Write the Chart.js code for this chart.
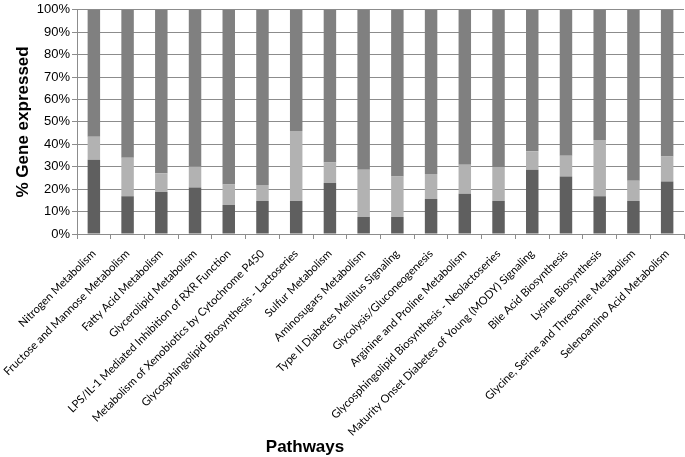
<!DOCTYPE html>
<html>
<head>
<meta charset="utf-8">
<script src="https://cdn.jsdelivr.net/npm/chart.js@4.4.1/dist/chart.umd.min.js"></script>
<style>
  html, body { margin: 0; padding: 0; background: #fff; }
  #wrap { width: 685px; height: 457px; position: relative; }
</style>
</head>
<body>
<div id="wrap"><canvas id="pathwayChart"></canvas></div>
<script>
const pathways = [
  'Nitrogen Metabolism',
  'Fructose and Mannose Metabolism',
  'Fatty Acid Metabolism',
  'Glycerolipid Metabolism',
  'LPS/IL-1 Mediated Inhibition of RXR Function',
  'Metabolism of Xenobiotics by Cytochrome P450',
  'Glycosphingolipid Biosynthesis - Lactoseries',
  'Sulfur Metabolism',
  'Aminosugars Metabolism',
  'Type II Diabetes Mellitus Signaling',
  'Glycolysis/Gluconeogenesis',
  'Arginine and Proline Metabolism',
  'Glycosphingolipid Biosynthesis - Neolactoseries',
  'Maturity Onset Diabetes of Young (MODY) Signaling',
  'Bile Acid Biosynthesis',
  'Lysine Biosynthesis',
  'Glycine, Serine and Threonine Metabolism',
  'Selenoamino Acid Metabolism'
];

// segment shares in percent, bottom to top
const darkPart = [33.1, 16.8, 18.7, 20.7, 12.9, 14.7, 14.7, 22.8, 7.6, 7.6, 15.6, 17.9, 14.7, 28.7, 25.7, 16.8, 14.7, 23.4];
const lightPart = [10.3, 17.2, 8.4, 9.3, 9.2, 7.1, 31.2, 9.1, 21.1, 18.1, 11.2, 13.0, 15.2, 8.2, 9.2, 25.1, 9.1, 11.2];
const restPart = [56.6, 66.0, 72.9, 70.0, 77.9, 78.2, 54.1, 68.1, 71.3, 74.3, 73.2, 69.1, 70.1, 63.1, 65.1, 58.1, 76.2, 65.4];

const yTicks = [0, 10, 20, 30, 40, 50, 60, 70, 80, 90, 100];

const axisGray = '#8c8c8c';

const xTitlePlugin = {
  id: 'xTitle',
  afterDraw(chart) {
    const ctx = chart.ctx;
    ctx.save();
    ctx.font = 'bold 17px "Liberation Sans", Arial, sans-serif';
    ctx.fillStyle = '#000';
    ctx.textAlign = 'center';
    ctx.textBaseline = 'middle';
    ctx.fillText('Pathways', 305, 447);
    ctx.restore();
  }
};

new Chart(document.getElementById('pathwayChart'), {
  type: 'bar',
  data: {
    labels: pathways,
    datasets: [
      { label: 'dark', data: darkPart, backgroundColor: '#5f5f5f' },
      { label: 'light', data: lightPart, backgroundColor: '#b2b2b2' },
      { label: 'rest', data: restPart, backgroundColor: '#808080' }
    ]
  },
  options: {
    responsive: true,
    maintainAspectRatio: false,
    animation: false,
    layout: { padding: { top: 7, right: 1, left: 0, bottom: 0 } },
    datasets: { bar: { categoryPercentage: 1, barPercentage: 0.37 } },
    plugins: {
      legend: { display: false },
      tooltip: { enabled: false }
    },
    scales: {
      x: {
        stacked: true,
        grid: { drawOnChartArea: false, drawTicks: true, tickLength: 5, color: axisGray },
        border: { color: axisGray },
        ticks: {
          autoSkip: false,
          minRotation: 45,
          maxRotation: 45,
          padding: 8,
          color: '#000',
          font: { family: 'Lato, "Open Sans", sans-serif', size: 11.2 }
        },
        afterFit(scale) { scale.height = 223; }
      },
      y: {
        stacked: true,
        min: 0,
        max: 100,
        afterBuildTicks(scale) { scale.ticks = yTicks.map((v) => ({ value: v })); },
        grid: { color: axisGray, tickLength: 5 },
        border: { color: axisGray },
        ticks: {
          padding: 2,
          color: '#000',
          font: { family: '"Liberation Sans", Arial, sans-serif', size: 13 },
          callback: (value) => `${value}%`
        },
        title: {
          display: true,
          text: '% Gene expressed',
          color: '#000',
          padding: { top: 13, bottom: 0 },
          font: { family: '"Liberation Sans", Arial, sans-serif', size: 17, weight: 'bold' }
        },
        afterFit(scale) { scale.width = 77; }
      }
    }
  },
  plugins: [xTitlePlugin]
});
</script>
</body>
</html>
